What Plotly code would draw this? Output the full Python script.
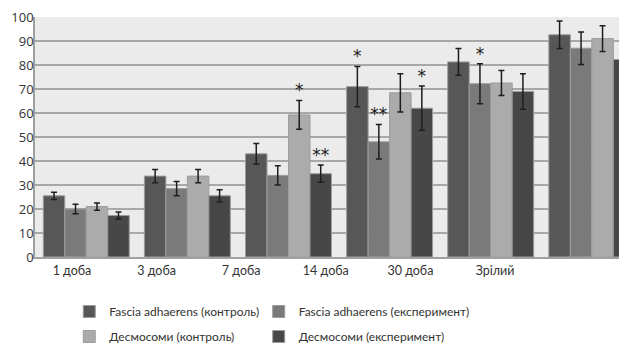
import plotly.graph_objects as go

categories = ["1 доба", "3 доба", "7 доба", "14 доба", "30 доба", "Зрілий"]

series_names = [
    "Fascia adhaerens (контроль)",
    "Fascia adhaerens (експеримент)",
    "Десмосоми (контроль)",
    "Десмосоми (експеримент)",
]

fa_ctrl = [25.5, 33.7, 43.0, 71.0, 81.3, 92.6]
fa_ctrl_err = [1.5, 2.8, 4.3, 8.4, 5.6, 5.7]
fa_exp = [20.0, 28.5, 34.0, 48.0, 72.2, 87.0]
fa_exp_err = [2.0, 3.0, 4.0, 7.2, 8.3, 6.8]
des_ctrl = [21.0, 33.7, 59.2, 68.4, 72.5, 91.0]
des_ctrl_err = [1.5, 2.8, 6.0, 8.0, 5.2, 5.4]
des_exp = [17.3, 25.5, 34.7, 62.0, 69.0, 82.3]
des_exp_err = [1.5, 2.5, 3.6, 9.2, 7.4, 6.9]

stars_fa_ctrl = ["", "", "", "*", "", ""]
stars_fa_exp = ["", "", "", "**", "*", ""]
stars_des_ctrl = ["", "", "*", "", "", ""]
stars_des_exp = ["", "", "**", "*", "", ""]

y_ticks = [0, 10, 20, 30, 40, 50, 60, 70, 80, 90, 100]

values = [fa_ctrl, fa_exp, des_ctrl, des_exp]
errors = [fa_ctrl_err, fa_exp_err, des_ctrl_err, des_exp_err]
stars = [stars_fa_ctrl, stars_fa_exp, stars_des_ctrl, stars_des_exp]
colors = ["#575757", "#7a7a7a", "#ababab", "#474747"]
legend_ids = ["legend", "legend2", "legend3", "legend4"]

fig = go.Figure()
for i in range(4):
    fig.add_trace(go.Bar(
        x=categories, y=values[i], name=series_names[i],
        marker=dict(color=colors[i], line=dict(color="#9c9c9c", width=1)),
        error_y=dict(type="data", array=errors[i], visible=True,
                     color="#1e1e1e", thickness=1.5, width=3),
        offsetgroup=str(i), legend=legend_ids[i],
    ))

for i in range(4):
    tops = [v + e for v, e in zip(values[i], errors[i])]
    fig.add_trace(go.Scatter(
        x=categories, y=tops, text=stars[i], mode="text",
        textposition="top center", offsetgroup=str(i),
        textfont=dict(size=17, color="#1a1a1a", family="DejaVu Sans"),
        showlegend=False, hoverinfo="skip",
    ))

# label axis (tick labels in the reference sit at a tighter spacing than the bars)
fig.add_trace(go.Scatter(
    x=categories, y=[None] * len(categories), xaxis="x2",
    mode="markers", showlegend=False, hoverinfo="skip",
))

leg_font = dict(family="Lato", size=12, color="#333")
leg_pos = [(0.099, 0.1475), (0.405, 0.1475), (0.099, 0.0737), (0.405, 0.0737)]
leg_layout = {}
for lid, (lx, ly) in zip(legend_ids, leg_pos):
    leg_layout[lid] = dict(orientation="h", x=lx, y=ly, xanchor="left", yanchor="top",
                           xref="container", yref="container",
                           font=leg_font, bgcolor="rgba(0,0,0,0)")

fig.update_layout(
    width=619, height=339,
    margin=dict(l=27, r=0, t=9, b=90, autoexpand=False),
    paper_bgcolor="white",
    plot_bgcolor="#ebebeb",
    barmode="group", bargap=0.15, bargroupgap=0,
    scattermode="group", scattergap=0.15,
    font=dict(family="Lato", size=12, color="#333"),
    xaxis=dict(type="category", range=[-0.507, 5.348], showticklabels=False,
               showgrid=False, showline=True, linecolor="#a0a0a0", linewidth=1.5,
               zeroline=False, ticks="", automargin=False),
    xaxis2=dict(type="category", overlaying="x", anchor="y", side="bottom",
                range=[-0.437, 6.56], showgrid=False, showline=False,
                zeroline=False, ticks="", automargin=False, ticklabelstandoff=4,
                tickfont=dict(family="Lato", size=12.5, color="#333")),
    yaxis=dict(range=[0, 100], tickvals=y_ticks, showgrid=True,
               gridcolor="#a8a8a8", gridwidth=1.5, showline=True,
               linecolor="#a0a0a0", linewidth=1.5, zeroline=False, ticks="",
               tickfont=dict(family="Open Sans", size=13, color="#333"),
               ticklabelstandoff=-3, automargin=False, ticklabeloverflow="allow"),
    **leg_layout,
)

fig.write_html("out.html")
